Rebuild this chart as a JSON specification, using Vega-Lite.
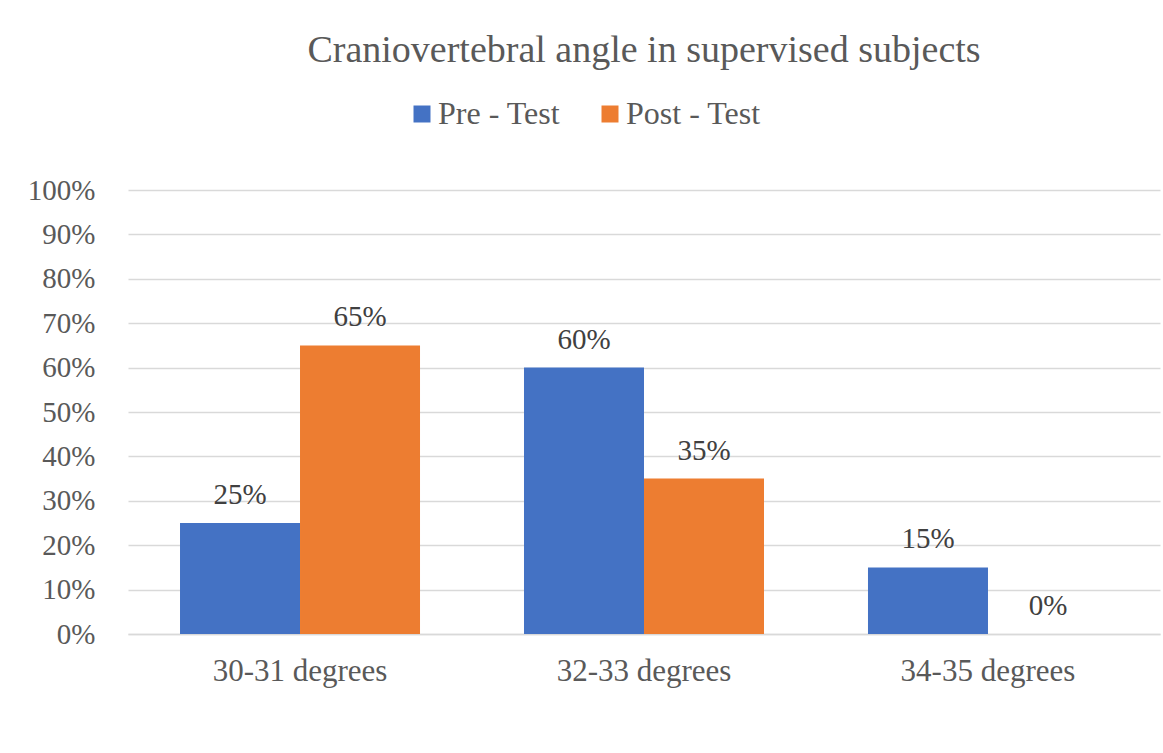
{
  "$schema": "https://vega.github.io/schema/vega-lite/v6.json",
  "autosize": "none",
  "width": 1032,
  "height": 444,
  "padding": {"left": 128, "top": 190, "right": 3, "bottom": 119},
  "background": "white",
  "config": {
    "font": "Liberation Serif",
    "view": {"stroke": null}
  },
  "title": {
    "text": "Craniovertebral angle in supervised subjects",
    "fontSize": 38,
    "font": "Liberation Serif",
    "fontWeight": "normal",
    "color": "#595959",
    "anchor": "middle",
    "offset": 28
  },
  "data": {
    "values": [
      {"range": "30-31 degrees", "test": "Pre - Test", "value": 0.25},
      {"range": "30-31 degrees", "test": "Post - Test", "value": 0.65},
      {"range": "32-33 degrees", "test": "Pre - Test", "value": 0.60},
      {"range": "32-33 degrees", "test": "Post - Test", "value": 0.35},
      {"range": "34-35 degrees", "test": "Pre - Test", "value": 0.15},
      {"range": "34-35 degrees", "test": "Post - Test", "value": 0.0}
    ]
  },
  "encoding": {
    "x": {
      "field": "range", "type": "nominal", "title": null,
      "scale": {"paddingInner": 0.3023, "paddingOuter": 0.1512},
      "axis": {"labelAngle": 0, "labelFontSize": 31, "labelColor": "#595959", "labelFont": "Liberation Serif", "ticks": false, "domainColor": "#D9D9D9", "domainWidth": 1.3, "labelPadding": 22}
    },
    "xOffset": {"field": "test", "type": "nominal", "sort": ["Pre - Test", "Post - Test"]},
    "y": {
      "field": "value", "type": "quantitative", "title": null,
      "scale": {"domain": [0, 1]},
      "axis": {"format": ".0%", "values": [0,0.1,0.2,0.3,0.4,0.5,0.6,0.7,0.8,0.9,1], "labelOverlap": false, "labelFontSize": 29, "labelColor": "#595959", "labelFont": "Liberation Serif", "ticks": false, "domain": false, "gridColor": "#D9D9D9", "gridWidth": 1.3, "labelPadding": 33}
    }
  },
  "layer": [
    {
      "mark": {"type": "bar"},
      "encoding": {
        "color": {
          "field": "test", "type": "nominal",
          "scale": {"domain": ["Pre - Test", "Post - Test"], "range": ["#4472C4", "#ED7D31"]},
          "legend": {"title": null, "orient": "none", "legendX": 278, "legendY": -92, "direction": "horizontal", "labelFontSize": 32, "labelColor": "#595959", "labelFont": "Liberation Serif", "symbolType": "square", "symbolSize": 289, "symbolStrokeWidth": 0, "columnPadding": 33, "labelOffset": 0}
        }
      }
    },
    {
      "mark": {"type": "text", "fontSize": 29, "color": "#404040", "baseline": "alphabetic", "dy": -19, "font": "Liberation Serif"},
      "encoding": {
        "text": {"field": "value", "type": "quantitative", "format": ".0%"}
      }
    }
  ]
}
